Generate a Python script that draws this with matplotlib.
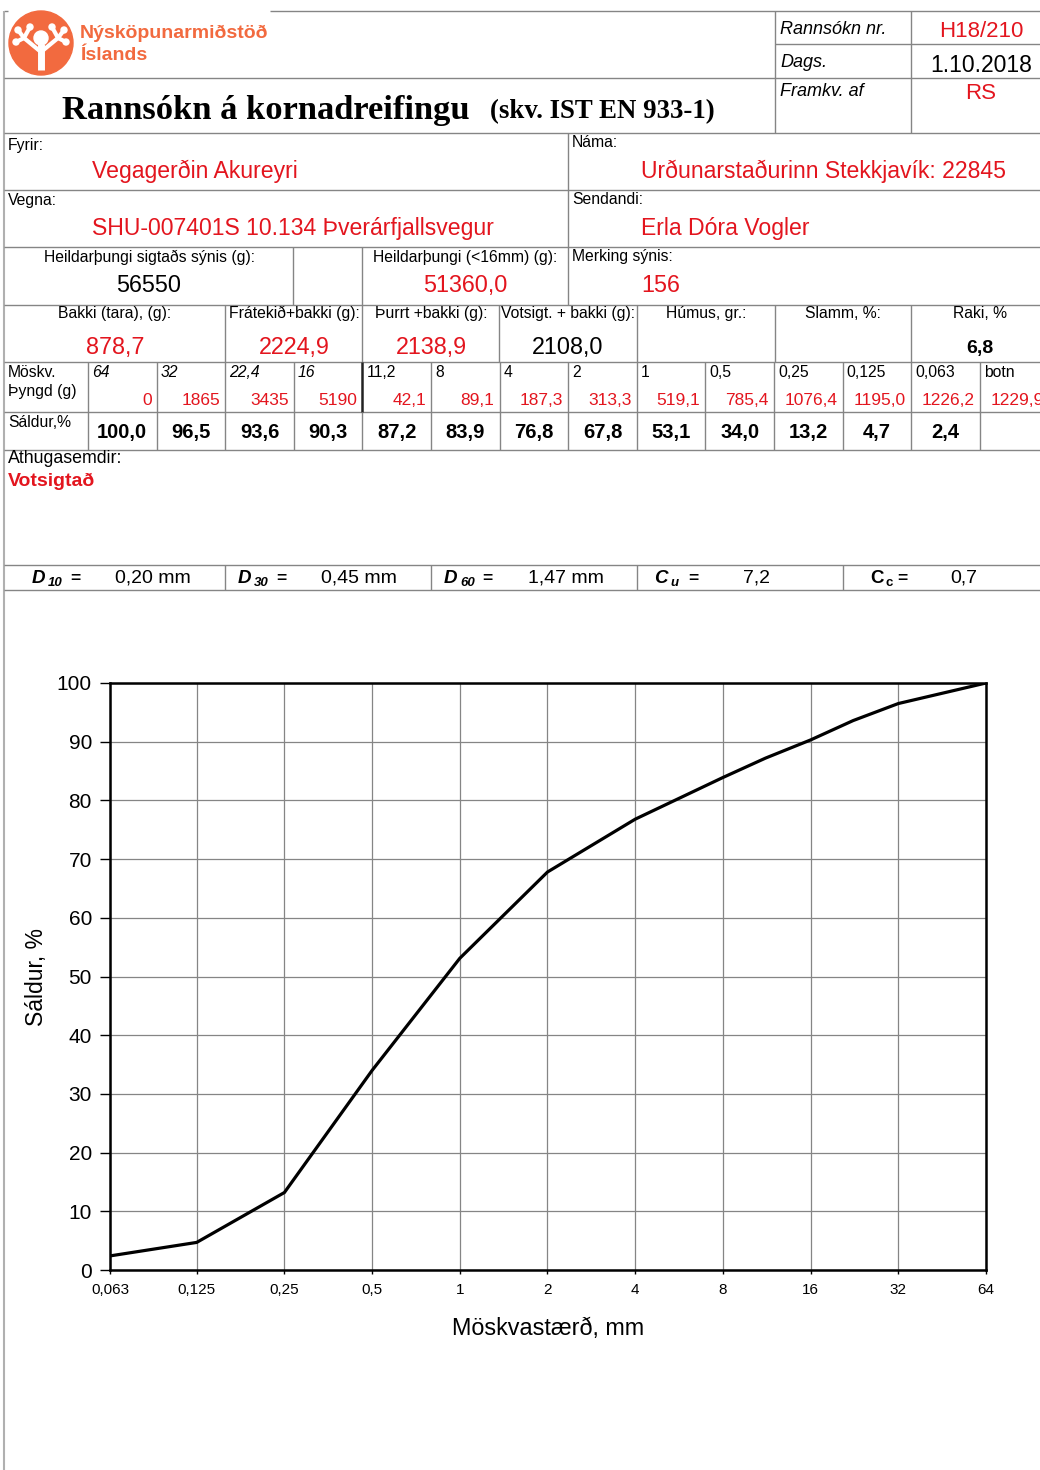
import matplotlib
matplotlib.use("Agg")
import matplotlib.pyplot as plt
from matplotlib.patches import Circle

sieve_sizes = [64, 32, 22.4, 16, 11.2, 8, 4, 2, 1, 0.5, 0.25, 0.125, 0.063]
sieve_labels = ['64', '32', '22,4', '16', '11,2', '8', '4', '2', '1', '0,5', '0,25', '0,125', '0,063', 'botn']
retained_g = ['0', '1865', '3435', '5190', '42,1', '89,1', '187,3', '313,3', '519,1', '785,4',
              '1076,4', '1195,0', '1226,2', '1229,9']
passing_pct = [100.0, 96.5, 93.6, 90.3, 87.2, 83.9, 76.8, 67.8, 53.1, 34.0, 13.2, 4.7, 2.4]

xtick_vals = [0.063, 0.125, 0.25, 0.5, 1, 2, 4, 8, 16, 32, 64]
xtick_labels = ['0,063', '0,125', '0,25', '0,5', '1', '2', '4', '8', '16', '32', '64']

d_values = [('D', '10', '0,20 mm'), ('D', '30', '0,45 mm'), ('D', '60', '1,47 mm'), ('C', 'u', '7,2'), ('C', 'c', '0,7')]

RED = '#e3151e'
ORANGE = '#f26a3f'
GRID = '#858585'
SANS = 'Liberation Sans'

plt.rcParams['font.family'] = [SANS, 'DejaVu Sans']

fig = plt.figure(figsize=(10.4, 14.7), dpi=100)
form = fig.add_axes([0, 0, 1, 1])
form.set_xlim(0, 1040)
form.set_ylim(1470, 0)
form.axis('off')


def hline(y, x0, x1, lw=1.0, c=GRID):
    form.plot([x0, x1], [y, y], color=c, lw=lw, solid_capstyle='butt')


def vline(x, y0, y1, lw=1.0, c=GRID):
    form.plot([x, x], [y0, y1], color=c, lw=lw, solid_capstyle='butt')


def txt(x, y, s, size=11, color='black', ha='left', **kw):
    form.text(x, y, s, fontsize=size, color=color, ha=ha, va='center', **kw)


# frame lines
hline(11, 270, 1040)
hline(11, 4, 8)
vline(4, 11, 1470, lw=1.5, c='#b0b0b0')
hline(78, 4, 1040)
hline(44, 775, 1040)
vline(775, 11, 133)
vline(911, 11, 133)
for y in [133, 190, 247, 305, 362, 412, 450, 565, 590]:
    hline(y, 4, 1040)
vline(568, 133, 305)
vline(293, 247, 305)
vline(362, 247, 305)
for x in [225, 362, 499, 637, 775, 911]:
    vline(x, 305, 362)
col_edges = [88 + 68.6 * i for i in range(15)]
for i, x in enumerate(col_edges[:14]):
    if i == 4:
        vline(x, 362, 412, lw=1.8, c='#222222')
        vline(x, 412, 450)
    else:
        vline(x, 362, 450)
for x in [225, 431, 637, 843]:
    vline(x, 565, 590)

# logo
form.add_patch(Circle((41, 43), 32, color=ORANGE))
form.plot([41, 41], [70, 44], color='white', lw=5, solid_capstyle='butt')
for (x0, y0, x1, y1) in [(41, 52, 24, 38), (41, 52, 58, 38), (24, 38, 18, 30), (24, 38, 30, 27),
                         (58, 38, 64, 30), (58, 38, 52, 27), (24, 38, 16, 42), (58, 38, 66, 42)]:
    form.plot([x0, x1], [y0, y1], color='white', lw=3, solid_capstyle='round')
form.add_patch(Circle((41, 38), 7, color='white'))
for (cx, cy) in [(18, 30), (30, 27), (64, 30), (52, 27), (16, 42), (66, 42)]:
    form.add_patch(Circle((cx, cy), 3, color='white'))
txt(80, 33, 'Nýsköpunarmiðstöð', size=14, color=ORANGE, weight='bold')
txt(80, 55, 'Íslands', size=14, color=ORANGE, weight='bold')

# title
serif = ['Liberation Serif', 'DejaVu Serif']
txt(62, 110, 'Rannsókn á kornadreifingu', size=24.8, weight='bold', family=serif)
txt(490, 112, '(skv. IST EN 933-1)', size=19.4, weight='bold', family=serif)

# right header box
txt(780, 29, 'Rannsókn nr.', size=13, style='italic')
txt(981, 31, 'H18/210', size=16, color=RED, ha='center')
txt(780, 62, 'Dags.', size=13, style='italic')
txt(981, 65, '1.10.2018', size=16.5, ha='center')
txt(780, 91, 'Framkv. af', size=13, style='italic')
txt(981, 93, 'RS', size=16, color=RED, ha='center')

# info rows
txt(8, 145, 'Fyrir:', size=11.3)
txt(92, 171, 'Vegagerðin Akureyri', size=16.6, color=RED)
txt(572, 142, 'Náma:', size=11.3)
txt(641, 171, 'Urðunarstaðurinn Stekkjavík: 22845', size=16.6, color=RED)
txt(8, 200, 'Vegna:', size=11.3)
txt(92, 228, 'SHU-007401S 10.134 Þverárfjallsvegur', size=16.6, color=RED)
txt(572, 199, 'Sendandi:', size=11.3)
txt(641, 228, 'Erla Dóra Vogler', size=16.6, color=RED)
txt(149, 257, 'Heildarþungi sigtaðs sýnis (g):', size=11.3, ha='center')
txt(149, 285, '56550', size=16.8, ha='center')
txt(465, 257, 'Heildarþungi (<16mm) (g):', size=11.3, ha='center')
txt(465, 285, '51360,0', size=16.8, color=RED, ha='center')
txt(572, 256, 'Merking sýnis:', size=11.3)
txt(641, 285, '156', size=16.8, color=RED)

# weights row
txt(115, 313, 'Bakki (tara), (g):', size=11.3, ha='center')
txt(115, 347, '878,7', size=16.8, color=RED, ha='center')
txt(294, 313, 'Frátekið+bakki (g):', size=11.3, ha='center')
txt(294, 347, '2224,9', size=16.8, color=RED, ha='center')
txt(431, 313, 'Þurrt +bakki (g):', size=11.3, ha='center')
txt(431, 347, '2138,9', size=16.8, color=RED, ha='center')
txt(568, 313, 'Votsigt. + bakki (g):', size=11.3, ha='center')
txt(568, 347, '2108,0', size=16.8, ha='center')
txt(706, 313, 'Húmus, gr.:', size=11.3, ha='center')
txt(843, 313, 'Slamm, %:', size=11.3, ha='center')
txt(980, 313, 'Raki, %', size=11.3, ha='center')
txt(980, 348, '6,8', size=14, weight='bold', ha='center')

# sieve table
txt(8, 372, 'Möskv.', size=11.3)
txt(8, 391, 'Þyngd (g)', size=11.3)
txt(8, 422, 'Sáldur,%', size=11.3)
for i, lab in enumerate(sieve_labels):
    x0, x1 = col_edges[i], col_edges[i + 1]
    txt(x0 + 4, 372, lab, size=11.3, style='italic' if i < 4 else 'normal')
    txt(x1 - 5, 400, retained_g[i], size=12.5, color=RED, ha='right')
for i, p in enumerate(passing_pct):
    x0, x1 = col_edges[i], col_edges[i + 1]
    txt((x0 + x1) / 2, 432, f'{p:.1f}'.replace('.', ','), size=14.5, weight='bold', ha='center')

# remarks
narrow = ['Liberation Sans Narrow', SANS]
txt(8, 458, 'Athugasemdir:', size=12.8, family=narrow)
txt(8, 481, 'Votsigtað', size=14, color=RED, weight='bold', family=narrow)

# D row
d_x = [32, 238, 444, 654, 870]
v_x = [115, 321, 528, 743, 950]
for (sym, sub, val), xs, xv in zip(d_values, d_x, v_x):
    is_c = sub == 'c'
    st = 'normal' if is_c else 'italic'
    txt(xs, 578, sym, size=13.5, weight='bold', style=st)
    txt(xs + 16, 583, sub, size=9.5, weight='bold', style=st)
    if is_c:
        txt(xs + 27, 578, '=', size=12.5, weight='bold')
    elif sub == 'u':
        txt(xs + 34, 578, '=', size=12.5, weight='bold')
    else:
        txt(xs + 38, 578, '=', size=12.5, weight='bold')
    txt(xv, 578, val, size=14)

# grading curve
ax = fig.add_axes([110 / 1040, 1 - 1270 / 1470, 876 / 1040, 587 / 1470])
ax.set_xscale('log', base=2)
ax.plot(sieve_sizes, passing_pct, color='black', lw=2.3, solid_joinstyle='miter', zorder=3)
ax.set_xlim(0.063, 64)
ax.set_ylim(0, 100)
ax.set_xticks(xtick_vals)
ax.set_xticklabels(xtick_labels)
ax.xaxis.set_minor_locator(matplotlib.ticker.NullLocator())
ax.set_yticks(range(0, 101, 10))
ax.grid(True, color=GRID, lw=0.9)
for sp in ax.spines.values():
    sp.set_linewidth(1.8)
    sp.set_color('black')
ax.tick_params(axis='y', labelsize=15, length=7, width=1, pad=6)
ax.tick_params(axis='x', labelsize=11, length=3, width=1, pad=6)
ax.set_xlabel('Möskvastærð, mm', fontsize=16.8, labelpad=15)
ax.set_ylabel('Sáldur, %', fontsize=16.5, labelpad=6)

fig.savefig('out.png', dpi=100)
